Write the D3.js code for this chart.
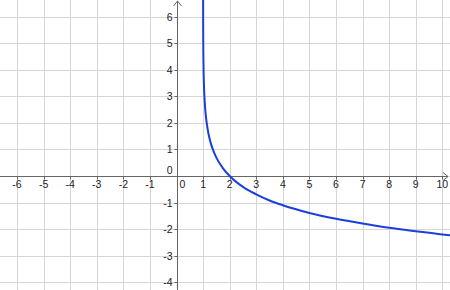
<!DOCTYPE html>
<html>
<head>
<meta charset="utf-8">
<script src="https://cdn.jsdelivr.net/npm/d3@7"></script>
<style>
  body { margin: 0; background: #fff; }
  svg { display: block; font-family: "Liberation Sans", Arial, sans-serif; }
</style>
</head>
<body>
<div id="container"></div>
<script>
// values
const xTicks = [-6, -5, -4, -3, -2, -1, 1, 2, 3, 4, 5, 6, 7, 8, 9, 10];
const yTicks = [-4, -3, -2, -1, 1, 2, 3, 4, 5, 6];
const curveX = [1.0013, 1.002, 1.003, 1.005, 1.007, 1.01, 1.02, 1.035, 1.05, 1.075, 1.1, 1.15, 1.2, 1.3, 1.4, 1.5, 1.75, 2, 2.5, 3, 3.5, 4, 5, 6, 7, 8, 9, 10, 10.3];
const curveY = [6.64, 6.21, 5.81, 5.3, 4.96, 4.61, 3.91, 3.35, 3.0, 2.59, 2.3, 1.9, 1.61, 1.2, 0.92, 0.69, 0.29, 0, -0.41, -0.69, -0.92, -1.1, -1.39, -1.61, -1.79, -1.95, -2.08, -2.2, -2.23];

const width = 450, height = 290;
const unit = 26.58;
const ox = 176.5, oy = 176;

const svg = d3.select("#container").append("svg")
  .attr("width", width).attr("height", height);

const x = d3.scaleLinear()
  .domain([-ox / unit, (width - ox) / unit])
  .range([0, width]);
const y = d3.scaleLinear()
  .domain([-(height - oy) / unit, oy / unit])
  .range([height, 0]);

//grid
const grid = svg.append("g").attr("stroke", "#d6d6d6").attr("stroke-width", 1);
grid.selectAll(".gx").data(xTicks.concat([0])).enter().append("line")
  .attr("x1", d => Math.round(x(d)) + 0.5).attr("x2", d => Math.round(x(d)) + 0.5)
  .attr("y1", 0).attr("y2", height);
grid.selectAll(".gy").data(yTicks.concat([0])).enter().append("line")
  .attr("y1", d => Math.round(y(d)) + 0.5).attr("y2", d => Math.round(y(d)) + 0.5)
  .attr("x1", 0).attr("x2", width);

//axes
const ax = Math.round(x(0)) + 0.5, ay = Math.round(y(0)) + 0.5;
const axes = svg.append("g").attr("stroke", "#666").attr("stroke-width", 1).attr("fill", "none");
axes.append("line").attr("x1", 0).attr("x2", width - 2).attr("y1", ay).attr("y2", ay);
axes.append("line").attr("x1", ax).attr("x2", ax).attr("y1", 1).attr("y2", height);
axes.append("path").attr("d", `M${width - 7},${ay - 4}L${width - 2},${ay}L${width - 7},${ay + 4}`);
axes.append("path").attr("d", `M${ax - 4},6L${ax},1L${ax + 4},6`);

// ticks
axes.selectAll(".tx").data(xTicks).enter().append("line")
  .attr("x1", d => Math.round(x(d)) + 0.5).attr("x2", d => Math.round(x(d)) + 0.5)
  .attr("y1", ay).attr("y2", ay + 3);
axes.selectAll(".ty").data(yTicks).enter().append("line")
  .attr("y1", d => Math.round(y(d)) + 0.5).attr("y2", d => Math.round(y(d)) + 0.5)
  .attr("x1", ax - 3).attr("x2", ax);

//labels
const labels = svg.append("g").attr("font-size", "10.5px").attr("fill", "#222");
labels.selectAll(".lx").data(xTicks).enter().append("text")
  .attr("x", d => x(d)).attr("y", oy + 12)
  .attr("text-anchor", "middle")
  .text(d => d);
labels.selectAll(".ly").data(yTicks).enter().append("text")
  .attr("x", ox - 4).attr("y", d => y(d) + 4)
  .attr("text-anchor", "end")
  .text(d => d);
labels.append("text").attr("x", ox + 3).attr("y", oy + 12).text("0");
labels.append("text").attr("x", ox - 4).attr("y", oy - 2).attr("text-anchor", "end").text("0");

//curve
const pts = curveX.map((d, i) => [d, curveY[i]]);
const line = d3.line().x(d => x(d[0])).y(d => y(d[1])).curve(d3.curveMonotoneX);
svg.append("path")
  .datum(pts)
  .attr("d", line)
  .attr("fill", "none")
  .attr("stroke", "#1a3fdc")
  .attr("stroke-width", 2);
</script>
</body>
</html>
